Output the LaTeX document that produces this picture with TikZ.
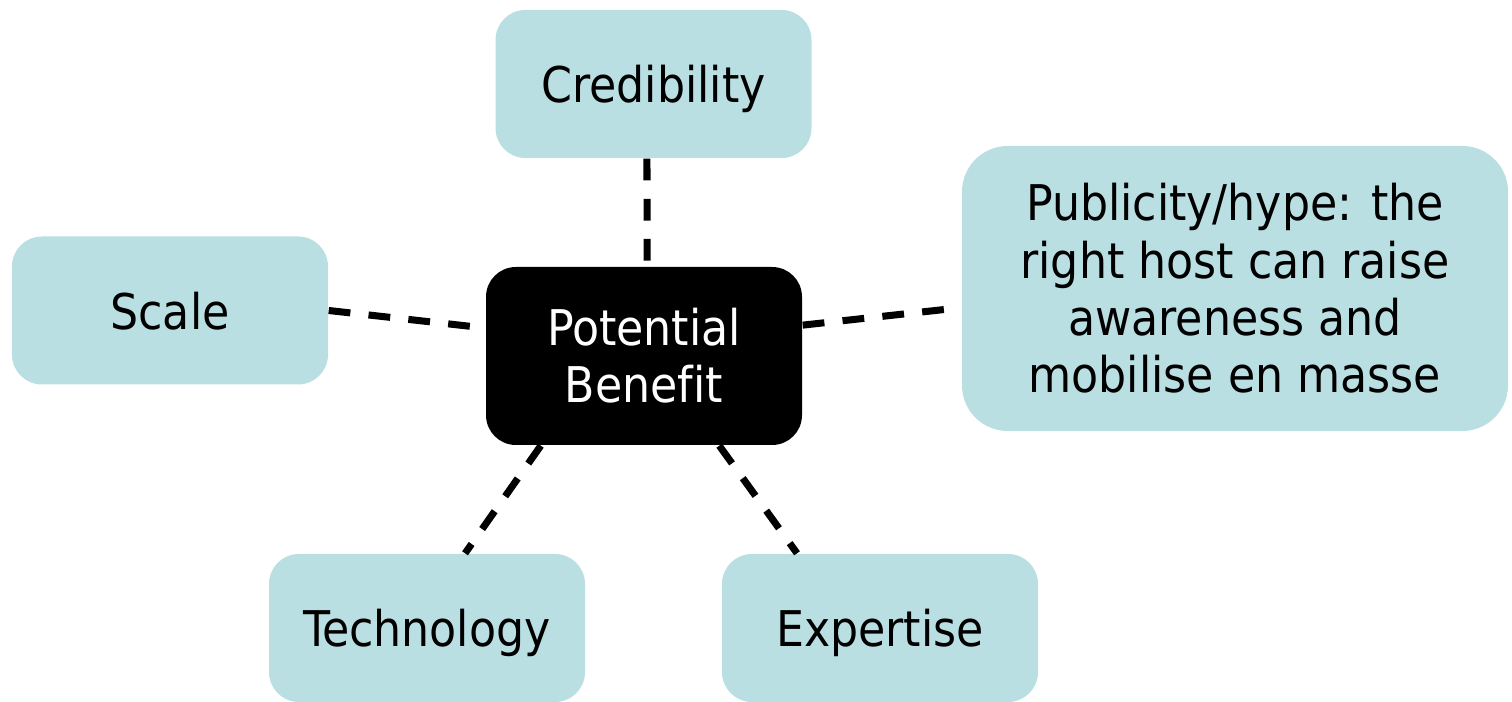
\documentclass[tikz,border=0pt]{standalone}
\usepackage{fontspec}
\setmainfont[Ligatures=NoCommon]{DejaVu Sans Condensed}
\definecolor{tint}{HTML}{B9DFE2}
\tikzset{
  topic/.style={fill=tint,rounded corners=8.5pt,minimum width=31.6mm,minimum height=14.8mm,inner sep=0pt,align=center,font=\fontsize{14}{16.3}\selectfont},
  word/.style={text height=10.6pt,text depth=0pt},
  link/.style={line width=2pt,dash pattern=on 6.2pt off 5.2pt}
}
\begin{document}
\begin{tikzpicture}
\useasboundingbox (0,0) rectangle (15.12,-7.02);
\node[topic,fill=black,text=white,minimum height=17.8mm] (core) at (6.44,-3.56) {Potential\\Benefit};
\node[topic,word] (cred) at (6.535,-0.84) {Credibility};
\node[topic,word] (scale) at (1.70,-3.105) {Scale};
\node[topic,rounded corners=13pt,minimum width=54.6mm,minimum height=28.5mm] (hype) at (12.35,-2.885) {Publicity/hype: the\\right host can raise\\awareness and\\mobilise en masse};
\node[topic,word] (tech) at (4.27,-6.28) {Technology};
\node[topic,word] (expert) at (8.80,-6.28) {Expertise};
% dashed spokes
\draw[link] (cred.265) -- (core.88);
\draw[link] (scale.east) -- (core.170);
\draw[link] (core.11.5) -- (hype.184);
\draw[link] (core.221) -- (tech.63);
\draw[link] (core.310.6) -- (expert.138);
\end{tikzpicture}
\end{document}
